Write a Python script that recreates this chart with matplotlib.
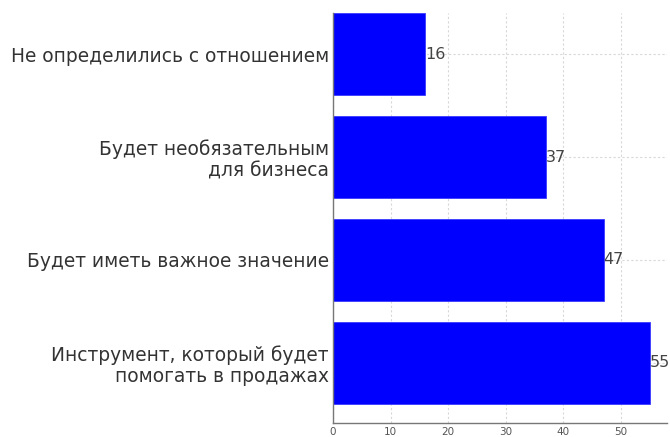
import matplotlib
matplotlib.use("Agg")
import matplotlib.pyplot as plt

categories = ["Не определились с отношением",
              "Будет необязательным\nдля бизнеса",
              "Будет иметь важное значение",
              "Инструмент, который будет\nпомогать в продажах"]
values = [16, 37, 47, 55]
xticks = [0, 10, 20, 30, 40, 50]

plt.rcParams['font.family'] = ['DejaVu Sans']
fig = plt.figure(figsize=(6.7, 4.37), dpi=100)
ax = fig.add_axes([0.497, 0.032, 0.4985, 0.938])

y = list(range(len(categories)))
ax.barh(y, values, height=0.8, color='#0000ff', edgecolor='#3a3aff', linewidth=0.6, zorder=2)
for yi, v in zip(y, values):
    ax.text(v, yi, str(v), va='center', ha='left', fontsize=11.5, color='#444444', zorder=3)

ax.set_yticks(y)
ax.set_yticklabels(categories, fontsize=13.4, color='#333333', ha='right',
                   multialignment='right', linespacing=1.15)
ax.set_xticks(xticks)
ax.tick_params(axis='x', labelsize=7.5, colors='#555555', length=0, pad=3)
ax.tick_params(axis='y', length=0, pad=3)
ax.set_xlim(0, 58)
ax.set_ylim(3.585, -0.4)
ax.grid(True, linestyle=(0, (2, 2)), color='#d8d8d8', linewidth=0.8, zorder=0)
for s in ['top', 'right']:
    ax.spines[s].set_visible(False)
for s in ['left', 'bottom']:
    ax.spines[s].set_color('#777777')
    ax.spines[s].set_linewidth(1.0)

fig.savefig("out.png", dpi=100)
